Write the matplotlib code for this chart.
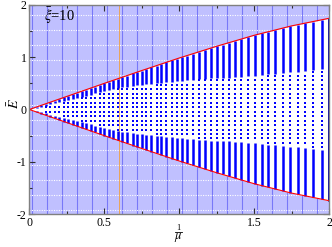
import matplotlib
matplotlib.use("Agg")
import matplotlib.pyplot as plt
from matplotlib.lines import Line2D
import numpy as np

plt.rcParams['font.family'] = ['Liberation Serif', 'DejaVu Serif']
plt.rcParams['mathtext.fontset'] = 'stix'
plt.rcParams['axes.unicode_minus'] = False

# red bounding curve E_max(1/mu)
CURVE_X = [0.0, 0.25, 0.5, 0.75, 1.0, 1.25, 1.5, 1.75, 2.0]
CURVE_E = [0.0, 0.25, 0.50, 0.745, 0.985, 1.21, 1.42, 1.60, 1.745]

# columns of levels: position, outer edge, inner edge of the dense band
COL_X = [0.05, 0.08, 0.11, 0.14, 0.17, 0.20, 0.23, 0.26, 0.29, 0.32,
         0.35, 0.38, 0.41, 0.44, 0.47, 0.50, 0.53, 0.56, 0.59, 0.62,
         0.655, 0.69, 0.72, 0.75, 0.78, 0.815, 0.85, 0.88, 0.915, 0.95,
         0.985, 1.02, 1.055, 1.09, 1.13, 1.17, 1.21, 1.25, 1.29, 1.33,
         1.37, 1.415, 1.46, 1.505, 1.55, 1.595, 1.64, 1.69, 1.74, 1.79,
         1.84, 1.895, 1.95, 2.0]
COL_TOP = [0.05, 0.08, 0.11, 0.14, 0.17, 0.20, 0.23, 0.26, 0.29, 0.32,
           0.35, 0.38, 0.41, 0.44, 0.47, 0.50, 0.53, 0.56, 0.59, 0.62,
           0.65, 0.69, 0.72, 0.745, 0.77, 0.81, 0.84, 0.87, 0.90, 0.94,
           0.97, 1.00, 1.03, 1.07, 1.10, 1.14, 1.17, 1.21, 1.24, 1.28,
           1.31, 1.35, 1.39, 1.42, 1.46, 1.49, 1.52, 1.56, 1.59, 1.62,
           1.65, 1.68, 1.72, 1.75]
COL_INNER = [0.035, 0.055, 0.075, 0.10, 0.12, 0.14, 0.16, 0.18, 0.20, 0.22,
             0.245, 0.265, 0.285, 0.31, 0.33, 0.35, 0.37, 0.39, 0.41, 0.43,
             0.44, 0.45, 0.46, 0.47, 0.48, 0.49, 0.50, 0.51, 0.52, 0.53,
             0.54, 0.55, 0.56, 0.57, 0.58, 0.59, 0.60, 0.60, 0.61, 0.61,
             0.62, 0.63, 0.64, 0.65, 0.66, 0.67, 0.68, 0.69, 0.71, 0.72,
             0.74, 0.76, 0.78, 0.0]
# sparse levels inside the band
LEVELS = [0.045, 0.13, 0.215, 0.30, 0.385, 0.47, 0.555, 0.64, 0.725]

XTICKS = [0, 0.5, 1, 1.5, 2]
XTICK_LABELS = ['0', '0.5', '', '1.5', '2']

BG = '#c0c0ff'
W, H = 332, 247

fig = plt.figure(figsize=(3.32, 2.47), dpi=100)
ax = fig.add_axes([0.0883, 0.1336, 0.9027, 0.8462])
ax.set_facecolor(BG)
ax.set_xlim(0, 2)
ax.set_ylim(-2, 2)

# background grid
for gx in np.arange(0.02, 2.0, 0.1):
    ax.axvline(gx, color='#7878f8', lw=0.8, zorder=1)
for gy in np.arange(-1.93, 2.0, 0.287):
    ax.axhline(gy, color='white', lw=0.8, ls=(0, (1, 1.2)), zorder=1)

ax.fill_between(CURVE_X, [-e for e in CURVE_E], CURVE_E, color='white',
                lw=0, zorder=2)
ax.axvline(0.6, color='#f0a040', lw=0.6, zorder=3)

# dense bands
ax.vlines(COL_X, COL_INNER, COL_TOP, color='blue', lw=1.8, zorder=4)
ax.vlines(COL_X, [-t for t in COL_TOP], [-i for i in COL_INNER],
          color='blue', lw=1.8, zorder=4)
ax.vlines([COL_X[-1]], -COL_TOP[-1], COL_TOP[-1], color='#000080', lw=1.8,
          zorder=4)

# sparse levels
px, py = [], []
for x, inner in zip(COL_X[:-1], COL_INNER[:-1]):
    for lv in LEVELS:
        if lv < inner - 0.02:
            px += [x, x]
            py += [lv, -lv]
ax.plot(px, py, 's', ms=1.9, mew=0, color='blue', zorder=4)

ax.plot(CURVE_X, CURVE_E, color='red', lw=0.8, zorder=5)
ax.plot(CURVE_X, [-e for e in CURVE_E], color='red', lw=0.8, zorder=5)

for s in ax.spines.values():
    s.set_color('#808080')
    s.set_linewidth(1.0)
    s.set_zorder(6)

ax.set_xticks(XTICKS)
ax.set_xticklabels(XTICK_LABELS)
ax.set_xticks([0.25, 0.75, 1.25, 1.75], minor=True)
ax.set_yticks([-2, -1, 0, 1, 2])
ax.set_yticks([-1.5, -0.5, 0.5, 1.5], minor=True)
ax.tick_params(which='both', direction='in', top=True, right=True,
               labelsize=8.5, color='#303030', pad=2)
ax.tick_params(which='major', length=4, width=0.8)
ax.tick_params(which='minor', length=2, width=0.8)

ax.text(0.095, 1.79, r'$\bar{\xi}$=10', fontsize=10.5, ha='left',
        va='center', zorder=7)

# x label: 1 over mu
fig.text(178 / W, 1 - 228 / H, '1', fontsize=6, ha='center', va='center')
fig.add_artist(Line2D([174.5 / W, 181.5 / W], [1 - 231.5 / H, 1 - 231.5 / H],
                      color='black', lw=0.6, transform=fig.transFigure))
fig.text(178 / W, 1 - 237 / H, r'$\mu$', fontsize=9, ha='center',
         va='center')
fig.text(14 / W, 1 - 104 / H, r'$\bar{E}$', fontsize=10, rotation=90,
         ha='center', va='center')

fig.savefig('out.png', dpi=100)
